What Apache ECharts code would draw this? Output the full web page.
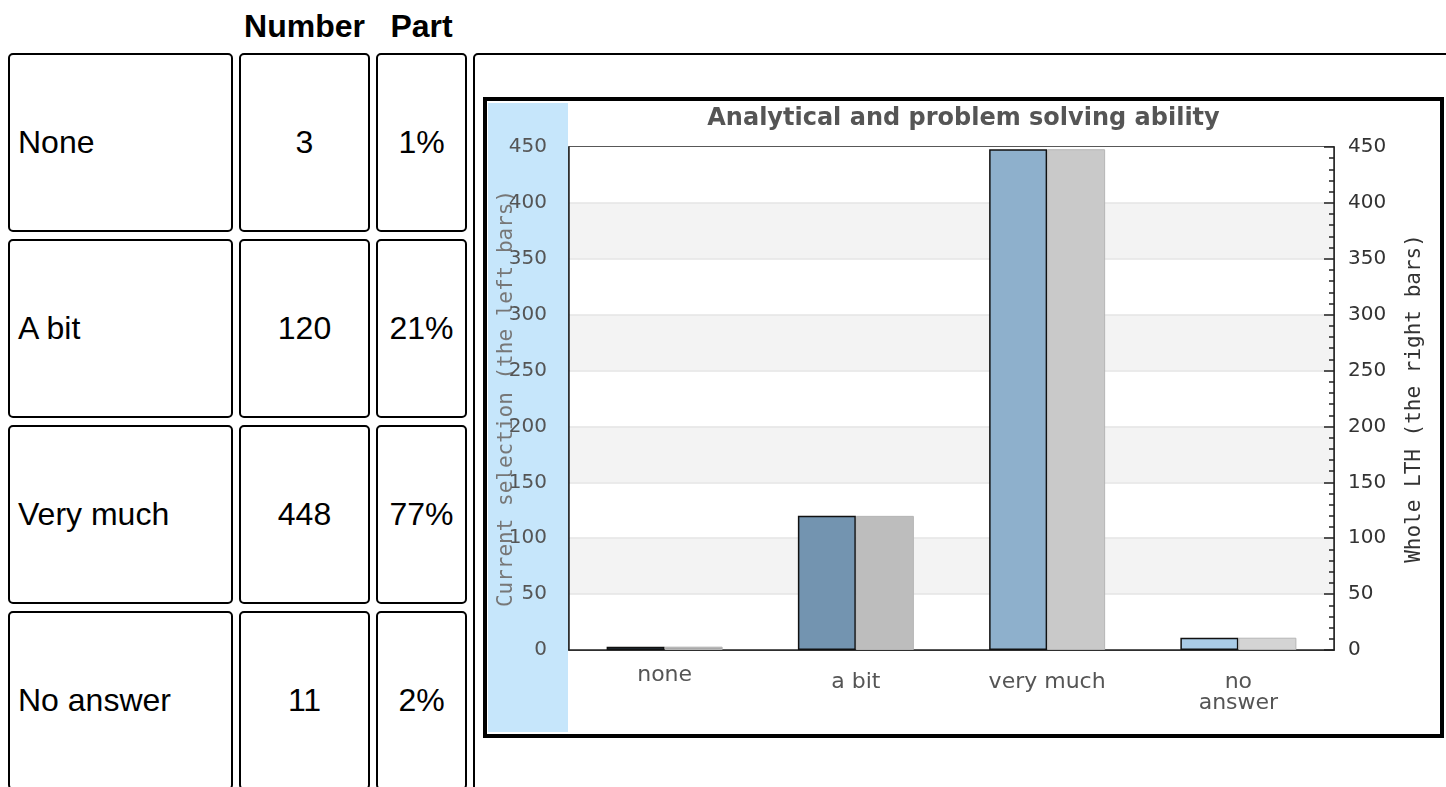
<!DOCTYPE html>
<html>
<head>
<meta charset="utf-8">
<script src="https://cdn.jsdelivr.net/npm/echarts@6/dist/echarts.min.js"></script>
<style>
  body { margin: 0; background: #fff; font-family: "Liberation Sans", Arial, sans-serif; overflow: hidden; }
  .hd { position: absolute; top: 8px; font-weight: bold; font-size: 32px; text-align: center; }
  .cell { position: absolute; box-sizing: border-box; border: 2px solid #000; border-radius: 5px;
          display: flex; align-items: center; font-size: 32px; }
  #frame { position: absolute; left: 473px; top: 53px; width: 1100px; height: 800px;
           box-sizing: border-box; border: 2px solid #000; border-radius: 5px; }
  #box { position: absolute; left: 483px; top: 97px; width: 961px; height: 641px;
         box-sizing: border-box; border: 4px solid #000; background: #fff; }
  #band { position: absolute; left: 1px; top: 2px; width: 80px; bottom: 2px; background: #c6e6fb; }
  #main { position: absolute; left: 0; top: 0; right: 0; bottom: 0; }
</style>
</head>
<body>
<div id="frame"></div>
<div id="box"><div id="band"></div><div id="main"></div></div>
<script>
// table data
var rowLabels = ['None', 'A bit', 'Very much', 'No answer'];
var rowNumbers = [3, 120, 448, 11];
var rowParts = ['1%', '21%', '77%', '2%'];

// chart data
var categories = ['none', 'a bit', 'very much', 'no\nanswer'];
var currentValues = [3, 120, 448, 11];
var wholeValues = [3, 120, 448, 11];
var currentColors = ['#3b5a76', '#7394b0', '#8eb0cc', '#a9cbe6'];
var wholeColors = ['#a9a9a9', '#bdbdbd', '#c9c9c9', '#d4d4d4'];

// build the table
var cols = [{x: 8, w: 225}, {x: 239, w: 131}, {x: 376, w: 91}];
var rowTop = [53, 239, 425, 611];
var rowH = 179;

var h1 = document.createElement('div');
h1.className = 'hd'; h1.style.left = '239px'; h1.style.width = '131px'; h1.textContent = 'Number';
document.body.appendChild(h1);
var h2 = document.createElement('div');
h2.className = 'hd'; h2.style.left = '376px'; h2.style.width = '91px'; h2.textContent = 'Part';
document.body.appendChild(h2);

for (var r = 0; r < rowLabels.length; r++) {
  var texts = [rowLabels[r], rowNumbers[r], rowParts[r]];
  for (var c = 0; c < 3; c++) {
    var d = document.createElement('div');
    d.className = 'cell';
    d.style.left = cols[c].x + 'px';
    d.style.width = cols[c].w + 'px';
    d.style.top = rowTop[r] + 'px';
    d.style.height = rowH + 'px';
    if (c === 0) { d.style.paddingLeft = '8px'; }
    else { d.style.justifyContent = 'center'; }
    d.textContent = texts[c];
    document.body.appendChild(d);
  }
}

var myChart = echarts.init(document.getElementById('main'));
var option = {
  backgroundColor: 'transparent',
  animation: false,
  title: {
    text: 'Analytical and problem solving ability',
    left: 'center',
    top: 1,
    textStyle: { fontFamily: 'DejaVu Sans', fontSize: 24, fontWeight: 'bold', color: '#555' }
  },
  grid: {
    left: 82, right: 106, top: 46, bottom: 84,
    outerBoundsMode: 'none',
    show: true, borderColor: '#222', borderWidth: 1.5, backgroundColor: 'transparent'
  },
  xAxis: {
    type: 'category',
    data: categories.map(function (c, i) {
      // the first label sits a little higher than the others
      return i === 0 ? c : { value: c, textStyle: { padding: [7, 0, 0, 0] } };
    }),
    axisLine: { lineStyle: { color: '#222', width: 1.5 } },
    axisTick: { show: false },
    axisLabel: {
      fontFamily: 'DejaVu Sans', fontSize: 22, color: '#555', margin: 15, lineHeight: 21
    }
  },
  yAxis: [
    {
      type: 'value', min: 0, max: 450, interval: 50, position: 'left',
      name: 'Current selection (the left bars)',
      nameLocation: 'middle', nameRotate: 90, nameGap: 52, nameMoveOverlap: false,
      nameTextStyle: { fontFamily: 'DejaVu Sans Mono', fontSize: 21, color: '#777' },
      axisLine: { show: true, lineStyle: { color: '#222', width: 1.5 } },
      axisTick: { show: false },
      axisLabel: { fontFamily: 'DejaVu Sans', fontSize: 20, color: '#555', margin: 22 },
      splitLine: { show: true, showMinLine: false, showMaxLine: false, lineStyle: { color: '#e4e4e4', width: 1.5 } },
      splitArea: { show: true, areaStyle: { color: ['#ffffff', '#f3f3f3'] } }
    },
    {
      type: 'value', min: 0, max: 450, interval: 50, position: 'right',
      name: 'Whole LTH (the right bars)',
      nameLocation: 'middle', nameRotate: 90, nameGap: 70, nameMoveOverlap: false,
      nameTextStyle: { fontFamily: 'DejaVu Sans Mono', fontSize: 21, color: '#333' },
      axisLine: { show: true, lineStyle: { color: '#222', width: 1.5 } },
      axisTick: { show: true, inside: true, length: 10, lineStyle: { color: '#222', width: 1.5 } },
      minorTick: { show: true, splitNumber: 5, length: 5, lineStyle: { color: '#222', width: 1.5 } },
      axisLabel: { fontFamily: 'DejaVu Sans', fontSize: 20, color: '#333', margin: 14 },
      splitLine: { show: false }
    }
  ],
  series: [
    {
      name: 'Current selection',
      type: 'bar',
      yAxisIndex: 0,
      barWidth: 58,
      barGap: '0%',
      data: currentValues.map(function (v, i) {
        return { value: v, itemStyle: { color: currentColors[i], borderColor: '#111', borderWidth: 1.5 } };
      })
    },
    {
      name: 'Whole LTH',
      type: 'bar',
      yAxisIndex: 1,
      barWidth: 58,
      barGap: '0%',
      data: wholeValues.map(function (v, i) {
        return { value: v, itemStyle: { color: wholeColors[i], borderColor: '#b5b5b5', borderWidth: 1 } };
      })
    }
  ]
};
myChart.setOption(option);
</script>
</body>
</html>
